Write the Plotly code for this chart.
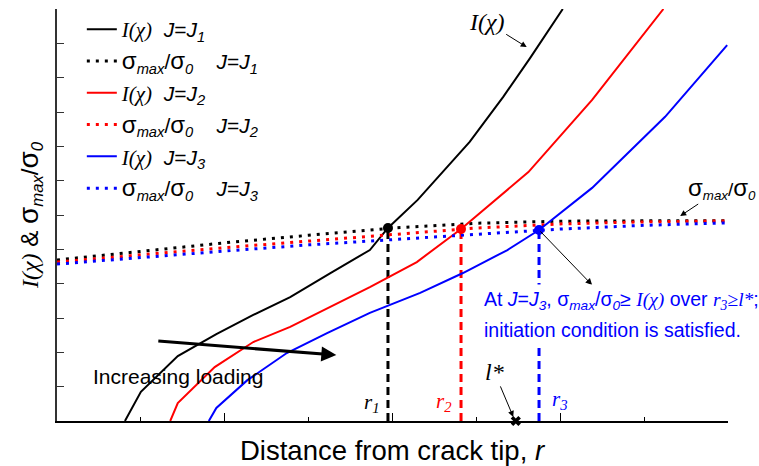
import plotly.graph_objects as go

# ---------------- data ----------------
# I(chi) curves for three loading levels
r_I1 = [0.81, 1.00, 1.44, 1.90, 2.34, 2.78, 3.26, 3.73, 3.946, 4.30, 4.92, 5.32, 5.64, 6.03]
I1 = [0.0, 0.85, 1.89, 2.53, 3.09, 3.61, 4.31, 4.98, 5.622, 6.44, 8.13, 9.44, 10.57, 12.0]
r_I2 = [1.35, 1.44, 1.88, 2.34, 2.78, 3.26, 3.73, 4.29, 4.817, 5.62, 6.38, 7.23]
I2 = [0.0, 0.52, 1.57, 2.30, 2.74, 3.32, 3.90, 4.63, 5.593, 7.25, 9.35, 12.0]
r_I3 = [1.81, 1.90, 2.27, 2.74, 3.22, 3.73, 4.33, 4.84, 5.37, 5.747, 6.38, 7.25, 7.99]
I3 = [0.0, 0.38, 1.19, 1.98, 2.56, 3.15, 3.73, 4.31, 4.98, 5.564, 6.79, 8.86, 10.95]

# sigma_max / sigma_0 curves
r_s = [0, 1, 2, 3, 4, 5, 6, 7, 8]
S1 = [4.69, 4.95, 5.19, 5.41, 5.62, 5.76, 5.82, 5.83, 5.83]
S2 = [4.63, 4.85, 5.05, 5.24, 5.43, 5.62, 5.74, 5.80, 5.83]
S3 = [4.57, 4.77, 4.95, 5.13, 5.29, 5.45, 5.59, 5.70, 5.77]

# intersection points r1, r2, r3
r_cross = [3.946, 4.817, 5.747]
s_cross = [5.622, 5.593, 5.564]
l_star = 5.47

colors = ["black", "red", "blue"]
labels_J = ["1", "2", "3"]

SERIF = "Liberation Serif, Times New Roman, serif"
SANS = "Liberation Sans, Arial, sans-serif"

I_txt = '<span style="font-family:Liberation Serif"><i>I(χ)</i></span>'
sig_txt = ('<span style="font-size:24px">σ</span><sub><i>max</i></sub>/'
           '<span style="font-size:24px">σ</span><sub><i>0</i></sub>')

fig = go.Figure()

# vertical dashed lines
for rc, sc, col in zip(r_cross, s_cross, colors):
    fig.add_trace(go.Scatter(x=[rc, rc], y=[0, sc], mode="lines",
                             line=dict(color=col, width=3, dash="8px,5px"),
                             showlegend=False, hoverinfo="skip"))

I_sets = [(r_I1, I1), (r_I2, I2), (r_I3, I3)]
S_sets = [S1, S2, S3]
for k in range(3):
    rx, iy = I_sets[k]
    fig.add_trace(go.Scatter(
        x=rx, y=iy, mode="lines", line=dict(color=colors[k], width=2),
        name=I_txt + "\u00a0\u00a0<i>J</i>=<i>J</i><sub><i>" + labels_J[k] + "</i></sub>",
        legendgroup="I" + labels_J[k]))
    fig.add_trace(go.Scatter(
        x=r_s, y=S_sets[k], mode="lines",
        line=dict(color=colors[k], width=3, dash="3px,6px"),
        name=sig_txt + "\u00a0\u00a0\u00a0\u00a0<i>J</i>=<i>J</i><sub><i>" + labels_J[k] + "</i></sub>",
        legendgroup="S" + labels_J[k]))

# intersection markers
fig.add_trace(go.Scatter(x=r_cross, y=s_cross, mode="markers",
                         marker=dict(color=colors, size=10),
                         showlegend=False, hoverinfo="skip"))
# l* marker
fig.add_trace(go.Scatter(x=[l_star], y=[0], mode="markers",
                         marker=dict(symbol="x", color="black", size=9),
                         cliponaxis=False, showlegend=False, hoverinfo="skip"))

ann = []
# I(chi) label
ann.append(dict(x=5.60, y=10.89, ax=-40, ay=-25, text='<i>I(χ)</i>',
                font=dict(family=SERIF, size=24, color="black"),
                showarrow=True, arrowhead=2, arrowsize=1.2, arrowwidth=1, arrowcolor="black"))
# sigma label
ann.append(dict(x=7.43, y=5.97, ax=42, ay=-28,
                text='<span style="font-size:24px">σ</span><sub><i>max</i></sub>/<span style="font-size:24px">σ</span><sub><i>0</i></sub>',
                font=dict(family=SANS, size=19, color="black"),
                showarrow=True, arrowhead=2, arrowsize=1.2, arrowwidth=1, arrowcolor="black"))
# arrow from blue point
ann.append(dict(x=6.38, y=3.96, ax=r_cross[2], ay=s_cross[2], axref="x", ayref="y",
                text="", showarrow=True, arrowhead=2, arrowsize=1.3, arrowwidth=1,
                arrowcolor="black", standoff=0, startstandoff=0))
# blue text lines
ann.append(dict(x=5.04, y=3.50, xanchor="left", showarrow=False,
                text=('At <i>J</i>=<i>J</i><sub><i>3</i></sub>, σ<sub><i>max</i></sub>/σ<sub><i>0</i></sub>≥ '
                      '<span style="font-family:Liberation Serif"><i>I(χ)</i></span> over '
                      '<span style="font-family:Liberation Serif"><i>r</i><sub><i>3</i></sub>≥<i>l*</i></span>;'),
                font=dict(family=SANS, size=19.5, color="blue"), bgcolor="white", borderpad=3))
ann.append(dict(x=5.04, y=2.66, xanchor="left", showarrow=False,
                text='initiation condition is satisfied.',
                font=dict(family=SANS, size=19.5, color="blue"), bgcolor="white", borderpad=3))
# increasing loading
ann.append(dict(x=0.405, y=1.31, xanchor="left", showarrow=False,
                text="Increasing loading", font=dict(family=SANS, size=21, color="black")))
ann.append(dict(x=3.33, y=1.92, ax=1.19, ay=2.33, axref="x", ayref="y", text="",
                showarrow=True, arrowhead=2, arrowsize=1, arrowwidth=3, arrowcolor="black",
                standoff=0))
# r labels
for xr, yr, col, s in [(3.76, 0.52, "black", "1"), (4.61, 0.55, "red", "2"), (6.00, 0.61, "blue", "3")]:
    ann.append(dict(x=xr, y=yr, showarrow=False, text="<i>r</i><sub><i>" + s + "</i></sub>",
                    font=dict(family=SERIF, size=21, color=col)))
# l*
ann.append(dict(x=5.44, y=0.12, ax=-19, ay=-45, text="<i>l*</i>",
                font=dict(family=SERIF, size=24, color="black"),
                showarrow=True, arrowhead=2, arrowsize=1.2, arrowwidth=1, arrowcolor="black"))
# axis titles
ann.append(dict(xref="paper", yref="paper", x=0.5, y=0, yshift=-29, yanchor="middle",
                showarrow=False,
                text="Distance from crack tip, <i>r</i>",
                font=dict(family=SANS, size=27.5, color="black")))
ann.append(dict(xref="paper", yref="paper", x=0, xshift=-46, y=0.5, showarrow=False,
                textangle=-90,
                text=('<span style="font-family:Liberation Serif"><i>I(χ)</i></span> & '
                      '<span style="font-size:28px">σ</span><sub><i>max</i></sub>/'
                      '<span style="font-size:28px">σ</span><sub><i>0</i></sub>'),
                font=dict(family=SANS, size=24, color="black")))

fig.update_layout(
    width=759, height=466,
    margin=dict(l=57, r=31, t=9, b=45),
    plot_bgcolor="white", paper_bgcolor="white",
    font=dict(family=SANS, color="black"),
    showlegend=True,
    legend=dict(x=0.037, y=1.0, xanchor="left", yanchor="top",
                bgcolor="rgba(0,0,0,0)", traceorder="grouped",
                font=dict(family=SANS, size=21, color="black"),
                tracegroupgap=1.5),
    annotations=ann,
    xaxis=dict(range=[0, 8], showline=True, linecolor="black", linewidth=1.5,
               ticks="inside", tick0=0, dtick=2, ticklen=8, tickcolor="black",
               showticklabels=False, showgrid=False, zeroline=False,
               minor=dict(ticks="inside", dtick=1, ticklen=4, tickcolor="black", showgrid=False)),
    yaxis=dict(range=[0, 12], showline=True, linecolor="#333", linewidth=2,
               ticks="inside", tick0=0, dtick=1, ticklen=7, tickcolor="#333",
               showticklabels=False, showgrid=False, zeroline=False),
)

fig.write_html("out.html", config={"displayModeBar": False},
               post_script="document.body.style.margin='0px';")
